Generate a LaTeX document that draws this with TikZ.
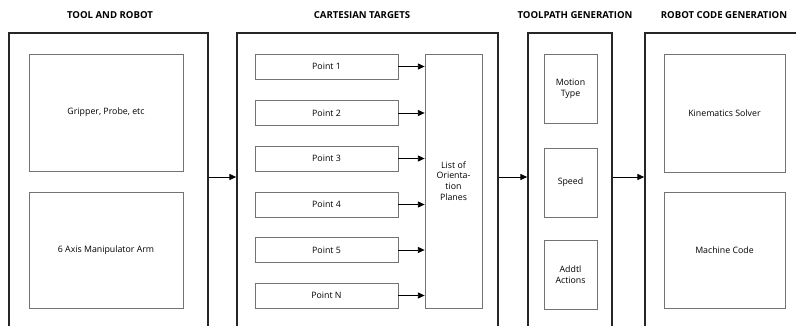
\documentclass[tikz,border=0pt]{standalone}
\usepackage{fontspec}
\setmainfont{Open Sans}
\usetikzlibrary{arrows.meta, positioning}
\tikzset{
    marco/.style={
        rectangle, draw=black!85, line width=1.3pt,
        inner sep=0pt
    },
    bloque/.style={
        rectangle, draw=black!55, line width=0.6pt,
        inner sep=1pt, align=center,
        font=\fontsize{6.6}{8}\selectfont
    },
    tam/.style 2 args={
        minimum width=#1*0.75pt, minimum height=#2*0.75pt
    },
    titulo/.style={
        font=\fontsize{7.2}{8.4}\selectfont\bfseries
    },
    flecha/.style={-{Triangle[length=5pt,width=4.5pt]}, line width=0.6pt}
}

\begin{document}
\begin{tikzpicture}[x=0.75pt, y=-0.75pt]

    \clip (0,0) rectangle (796,325);
    \fill[white] (0,0) rectangle (796,325);

    % titulos
    \node[titulo] (t1) at (110,15) {TOOL AND ROBOT};
    \node[titulo] (t2) at (362,15) {CARTESIAN TARGETS};
    \node[titulo] (t3) at (575,15) {TOOLPATH GENERATION};
    \node[titulo] (t4) at (724,15) {ROBOT CODE GENERATION};

    % marcos
    \node[marco, tam={199}{307}] (herramienta) at (108.5,186.5) {};
    \node[marco, tam={261}{307}] (cartesianos) at (367.5,186.5) {};
    \node[marco, tam={84}{307}]  (trayectoria) at (570,186.5) {};
    \node[marco, tam={170}{307}] (codigo)      at (730,186.5) {};

    % herramienta y robot
    \node[bloque, tam={154}{117}] (pinza) at (106,112.5) {Gripper, Probe, etc};
    \node[bloque, tam={154}{116}] (brazo) at (106,250) {6 Axis Manipulator Arm};

    % objetivos cartesianos
    \node[bloque, tam={143}{25}] (p1) at (326.5,66.5) {Point 1};
    \node[bloque, tam={143}{25}] (p2) at (326.5,113) {Point 2};
    \node[bloque, tam={143}{25}] (p3) at (326.5,158.5) {Point 3};
    \node[bloque, tam={143}{25}] (p4) at (326.5,204.5) {Point 4};
    \node[bloque, tam={143}{25}] (p5) at (326.5,250) {Point 5};
    \node[bloque, tam={143}{25}] (pn) at (326.5,295.5) {Point N};
    \node[bloque, tam={57}{254}] (planos) at (453.5,181)
        {List of\\Orienta-\\tion\\Planes};

    % generacion de trayectoria
    \node[bloque, tam={53}{69}] (movimiento) at (570.5,88.5) {Motion\\Type};
    \node[bloque, tam={53}{69}] (velocidad)  at (570.5,182.5) {Speed};
    \node[bloque, tam={53}{69}] (acciones)   at (570.5,274.5) {Addtl\\Actions};

    % generacion de codigo
    \node[bloque, tam={121}{118}] (cinematica) at (724.5,113) {Kinematics Solver};
    \node[bloque, tam={121}{116}] (maquina)    at (724.5,250) {Machine Code};

    % flechas
    \coordinate (nivel) at (0,177);
    \draw[flecha] (herramienta.east |- nivel) -- (cartesianos.west |- nivel);
    \draw[flecha] (cartesianos.east |- nivel) -- (trayectoria.west |- nivel);
    \draw[flecha] (trayectoria.east |- nivel) -- (codigo.west |- nivel);

    \draw[flecha] (p1.east) -- (planos.west |- p1.east);
    \draw[flecha] (p2.east) -- (planos.west |- p2.east);
    \draw[flecha] (p3.east) -- (planos.west |- p3.east);
    \draw[flecha] (p4.east) -- (planos.west |- p4.east);
    \draw[flecha] (p5.east) -- (planos.west |- p5.east);
    \draw[flecha] (pn.east) -- (planos.west |- pn.east);

\end{tikzpicture}
\end{document}
